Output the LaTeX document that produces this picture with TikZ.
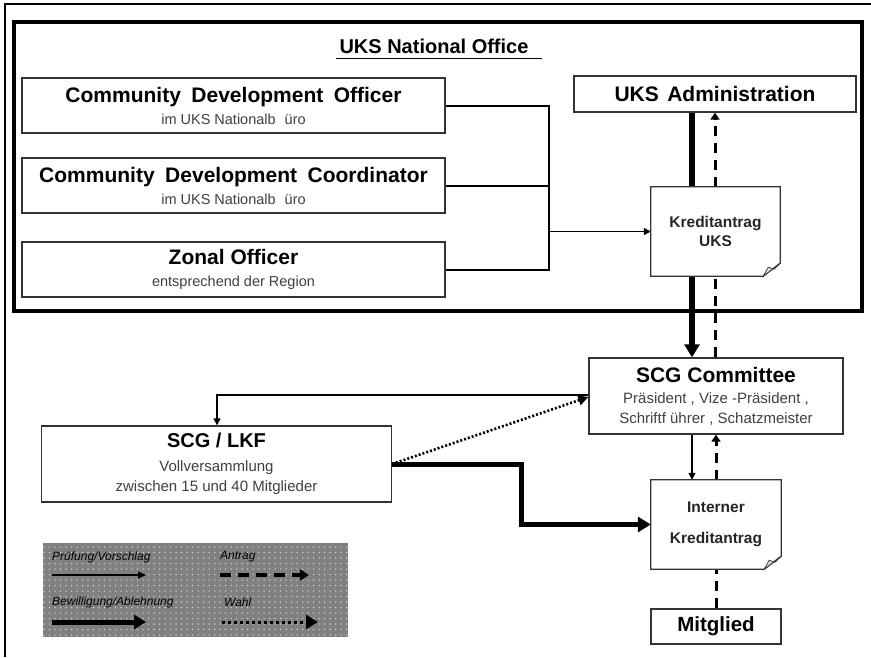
\documentclass[tikz,border=0pt]{standalone}
\usepackage{fontspec}
\setmainfont{Liberation Sans}
\usetikzlibrary{arrows.meta,patterns.meta}
\pgfdeclarelayer{bg}
\pgfdeclarelayer{mid}
\pgfsetlayers{bg,mid,main}
\definecolor{subgray}{gray}{0.25}
\definecolor{boxline}{gray}{0.2}
\newcommand{\docoutline}[1]{%
  \draw[boxline, line width=1.3pt, fill=white] (#1.north west) -- (#1.north east) -- ([yshift=13pt]#1.south east) -- ([xshift=-17pt]#1.south east) -- (#1.south west) -- cycle;
  \draw[boxline, line width=0.7pt, fill=gray!25] ([xshift=-17pt]#1.south east) -- ([xshift=-12pt,yshift=9pt]#1.south east) -- ([xshift=-6pt,yshift=7pt]#1.south east) -- ([yshift=13pt]#1.south east) -- cycle;}
\begin{document}
\begin{tikzpicture}[x=1pt,y=-1pt,
  box/.style={draw=boxline, line width=1.3pt, fill=white, inner sep=0pt, align=center},
  docnode/.style={inner sep=0pt, align=center},
  busline/.style={line width=2pt},
  thinarr/.style={line width=1.2pt, -{Triangle[length=7pt,width=7pt]}},
  thickarr/.style={line width=5.5pt, -{Triangle[length=13pt,width=15pt]}},
  dasharr/.style={line width=3pt, dash pattern=on 10pt off 7pt, -{Triangle[length=7pt,width=9pt]}},
  dashline/.style={line width=3pt, dash pattern=on 10pt off 7pt},
  dotarr/.style={line width=2.6pt, dash pattern=on 2pt off 2pt, -{Triangle[length=10pt,width=10pt]}},
  legtxt/.style={font=\itshape\fontsize{12}{14}\selectfont, text=black, anchor=west, inner sep=0pt}
]
\useasboundingbox (0,0) rectangle (871,657);

% outer frame
\draw[line width=1.6pt] (5,657) -- (5,4) -- (871,4);
\begin{pgfonlayer}{bg}
\draw[line width=4.5pt] (14,22) rectangle (862,311);
\end{pgfonlayer}

% title
\node[font=\bfseries\fontsize{20}{22}\selectfont, anchor=base] (title) at (434,53) {UKS National Office};
\draw[line width=1.8pt] (336,58.5) -- (542,58.5);

% left boxes
\node[box, minimum width=423pt, minimum height=55pt, font=\fontsize{14.5}{22}\selectfont] (cdo) at (233.5,105.5)
  {{\bfseries\fontsize{21}{22}\selectfont Community\hspace{0.5em}Development\hspace{0.5em}Officer}\\
   {\color{subgray}im UKS Nationalb\hspace{9pt}üro}};
\node[box, minimum width=423pt, minimum height=55pt, font=\fontsize{14.5}{22}\selectfont] (cdc) at (233.5,185.5)
  {{\bfseries\fontsize{21}{22}\selectfont Community\hspace{0.5em}Development\hspace{0.5em}Coordinator}\\
   {\color{subgray}im UKS Nationalb\hspace{9pt}üro}};
\node[box, minimum width=423pt, minimum height=55pt, font=\fontsize{14.5}{22}\selectfont] (zo) at (233.5,269.5)
  {{\bfseries\fontsize{21}{22}\selectfont Zonal Officer}\\
   {\color{subgray}entsprechend der Region}};

% right column
\node[box, minimum width=282pt, minimum height=36pt, font=\bfseries\fontsize{21}{24}\selectfont] (admin) at (715,94) {UKS\hspace{0.4em}Administration};
\node[docnode, minimum width=129pt, minimum height=89pt, font=\bfseries\fontsize{15.5}{19}\selectfont, text=black!85] (kuks) at (715.5,231.5) {Kreditantrag\\UKS};
\node[box, minimum width=254pt, minimum height=76pt, font=\fontsize{15}{20}\selectfont] (comm) at (716,396)
  {{\bfseries\fontsize{21}{20}\selectfont SCG Committee}\\[1pt]
   {\color{subgray}Präsident , Vize -Präsident ,}\\
   {\color{subgray}Schriftf ührer , Schatzmeister}};
\node[docnode, minimum width=130pt, minimum height=89pt, font=\bfseries\fontsize{15.5}{19}\selectfont, text=black!85] (intern) at (716,524.5) {Interner\\[12pt]Kreditantrag};
\node[box, minimum width=130pt, minimum height=35pt, font=\bfseries\fontsize{20.5}{24}\selectfont] (mitglied) at (716,626.5) {Mitglied};

% LKF
\node[box, minimum width=350pt, minimum height=76pt, font=\fontsize{15}{20.5}\selectfont] (lkf) at (216.5,464)
  {{\bfseries\fontsize{20}{20}\selectfont SCG / LKF}\\[3pt]
   {\color{subgray}Vollversammlung}\\
   {\color{subgray}zwischen 15 und 40 Mitglieder}};

% document outlines
\begin{pgfonlayer}{mid}
\docoutline{kuks}
\docoutline{intern}
\end{pgfonlayer}

% connectors
\coordinate (bj) at (549,231.5);
\coordinate (tx) at (692,0);
\coordinate (lx) at (217,0);
\coordinate (tk) at (521,0);
\begin{pgfonlayer}{bg}
\draw[busline] (cdo.east) -| (zo.east -| bj) -- (zo.east);
\draw[busline] (cdc.east) -- (cdc.east -| bj);
\draw[thinarr] (bj) -- (kuks.west);
\draw[thickarr] (admin.south -| tx) -- (comm.north -| tx);
\draw[dasharr] (comm.north -| admin.south) -- (admin.south);
\draw[thinarr] (comm.south -| tx) -- (intern.north -| tx);
\draw[dasharr] (intern.north) -- (comm.south);
\draw[dashline] (mitglied.north) -- (intern.south);
\draw[thinarr] ([yshift=1pt]comm.west) -| (lkf.north -| lx);
\draw[dotarr] (lkf.east) -- ([yshift=-1pt]comm.west);
\draw[thickarr, line width=5pt] (lkf.east) -| (tk |- intern.west) -- (intern.west);
\end{pgfonlayer}

% legend
\node[fill=black!50, postaction={pattern={Dots[distance=5.5pt,radius=0.75pt]}, pattern color=white!85!black}, minimum width=305pt, minimum height=94pt, inner sep=0pt] (legend) at (195.5,590) {};
\node[legtxt] (lg1) at (52,557) {Prüfung/Vorschlag};
\node[legtxt] (lg2) at (220,557) {Antrag};
\node[legtxt] (lg3) at (52,602) {Bewilligung/Ablehnung};
\node[legtxt] (lg4) at (224,602) {Wahl};
\coordinate (la1) at (52,575); \coordinate (lb1) at (146,575);
\coordinate (la2) at (220,575); \coordinate (lb2) at (309,575);
\coordinate (la3) at (52,622); \coordinate (lb3) at (146,622);
\coordinate (la4) at (222,622); \coordinate (lb4) at (318,622);
\draw[line width=1.5pt, -{Triangle[length=8pt,width=7pt]}] (la1) -- (lb1);
\draw[line width=4pt, dash pattern=on 11pt off 7pt, -{Triangle[length=9pt,width=11pt]}] (la2) -- (lb2);
\draw[line width=5pt, -{Triangle[length=12pt,width=14pt]}] (la3) -- (lb3);
\draw[line width=3pt, dash pattern=on 3pt off 3pt, -{Triangle[length=12pt,width=14pt]}] (la4) -- (lb4);
\end{tikzpicture}
\end{document}
